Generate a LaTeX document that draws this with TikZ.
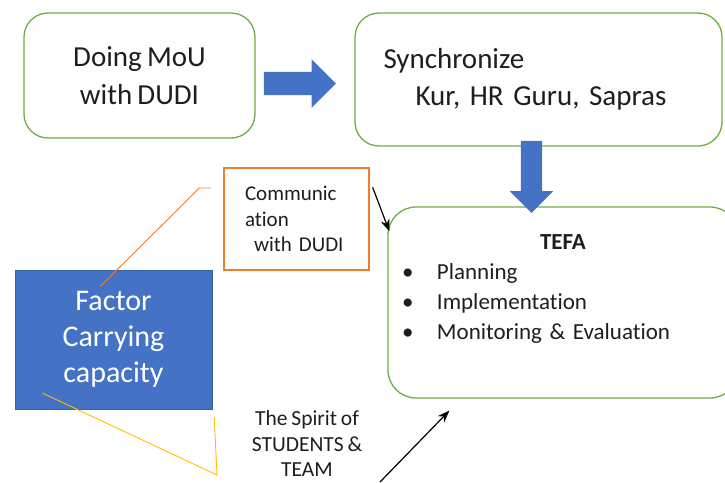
\documentclass[tikz,border=0pt]{standalone}
\usepackage{fontspec}
\setmainfont{Carlito}[Ligatures={NoCommon},WordSpace={0.8}]
\usetikzlibrary{positioning,calc,shapes.arrows,arrows.meta}
\definecolor{boxgreen}{RGB}{112,173,71}
\definecolor{blockblue}{RGB}{68,114,196}
\definecolor{commorange}{RGB}{237,125,49}
\definecolor{lineyellow}{RGB}{255,192,0}
\definecolor{txtgray}{RGB}{30,30,30}

\begin{document}
\begin{tikzpicture}[x=1pt,y=1pt,yscale=-1,xscale=1,
        greenbox/.style={draw=boxgreen, line width=1.3pt, rounded corners=24pt, text=txtgray},
        blockarrow/.style={single arrow, fill=blockblue, draw=none, inner xsep=0pt},
        thinline/.style={line width=0.9pt},
        pointer/.style={-{Stealth[length=12pt,width=9pt]}, line width=1.2pt}]
        \useasboundingbox (0,0) rectangle (725,482);
        % boxes
        \node[greenbox, minimum width=231pt, minimum height=125pt, align=center, font=\fontsize{29}{38}\selectfont] (mou) at (139.5,75.5) {Doing MoU\\with DUDI};
        \node[greenbox, minimum width=367pt, minimum height=133pt, text width=310pt, align=left, font=\fontsize{29}{37}\selectfont] (sync) at (538.5,79.5) {Synchronize\\\hspace*{32pt}Kur, HR Guru, Sapras};
        \node[greenbox, rounded corners=28pt, minimum height=191pt, text width=322pt, inner xsep=14pt, align=center, font=\fontsize{23}{30}\selectfont] (tefa) at (563,302.5) {\textbf{TEFA}\\
            \makebox[322pt][l]{\makebox[35pt][l]{\textbullet}Planning}\\
            \makebox[322pt][l]{\makebox[35pt][l]{\textbullet}Implementation}\\
            \makebox[322pt][l]{\makebox[35pt][l]{\textbullet}Monitoring \& Evaluation}\\ ~};
        \node[draw=commorange, line width=1.3pt, minimum width=145pt, minimum height=102pt, text width=103pt, align=left, text=txtgray, font=\fontsize{21}{25.5}\selectfont] (comm) at (296.5,219) {Communic\\ation\\\hspace*{9pt}with DUDI};
        \node[fill=blockblue, draw=blockblue!85!black, line width=0.5pt, minimum width=197pt, minimum height=139pt, text=white, align=center, font=\fontsize{30}{36}\selectfont] (factor) at (113.5,339.5) {Factor\\Carrying\\capacity};
        \node[align=center, text=txtgray, font=\fontsize{21.5}{25.5}\selectfont] (spirit) at (307,444) {The Spirit of\\STUDENTS \&\\TEAM};
        % block arrows
        \node[blockarrow, inner ysep=11.5pt, single arrow head extend=12.5pt, minimum height=72pt, anchor=tail] (mouarrow) at ($(mou.east)+(8,8)$) {};
        \node[blockarrow, inner ysep=10.5pt, single arrow head extend=11pt, minimum height=72pt, rotate=-90, anchor=tail] (syncarrow) at ($(sync.south)+(-7,-6)$) {};
        % pointers
        \coordinate (spiritfoot) at (380,482);
        \draw[pointer] ($(comm.north east)+(3,20)$) -- ($(tefa.north west)+(2,25)$);
        \draw[pointer] (spiritfoot) -- ($(tefa.south west)+(62,12)$);
        % callout lines
        \draw[commorange, thinline] ($(factor.north)+(-13.5,17)$) -- ($(comm.west)+(-24,-31)$) -- ($(comm.west)+(-12,-31)$);
        \draw[lineyellow, thinline] ($(factor.south west)+(28,-16)$) -- (217,475) -- ($(factor.south east)+(2,8)$);
    \end{tikzpicture}
\end{document}
